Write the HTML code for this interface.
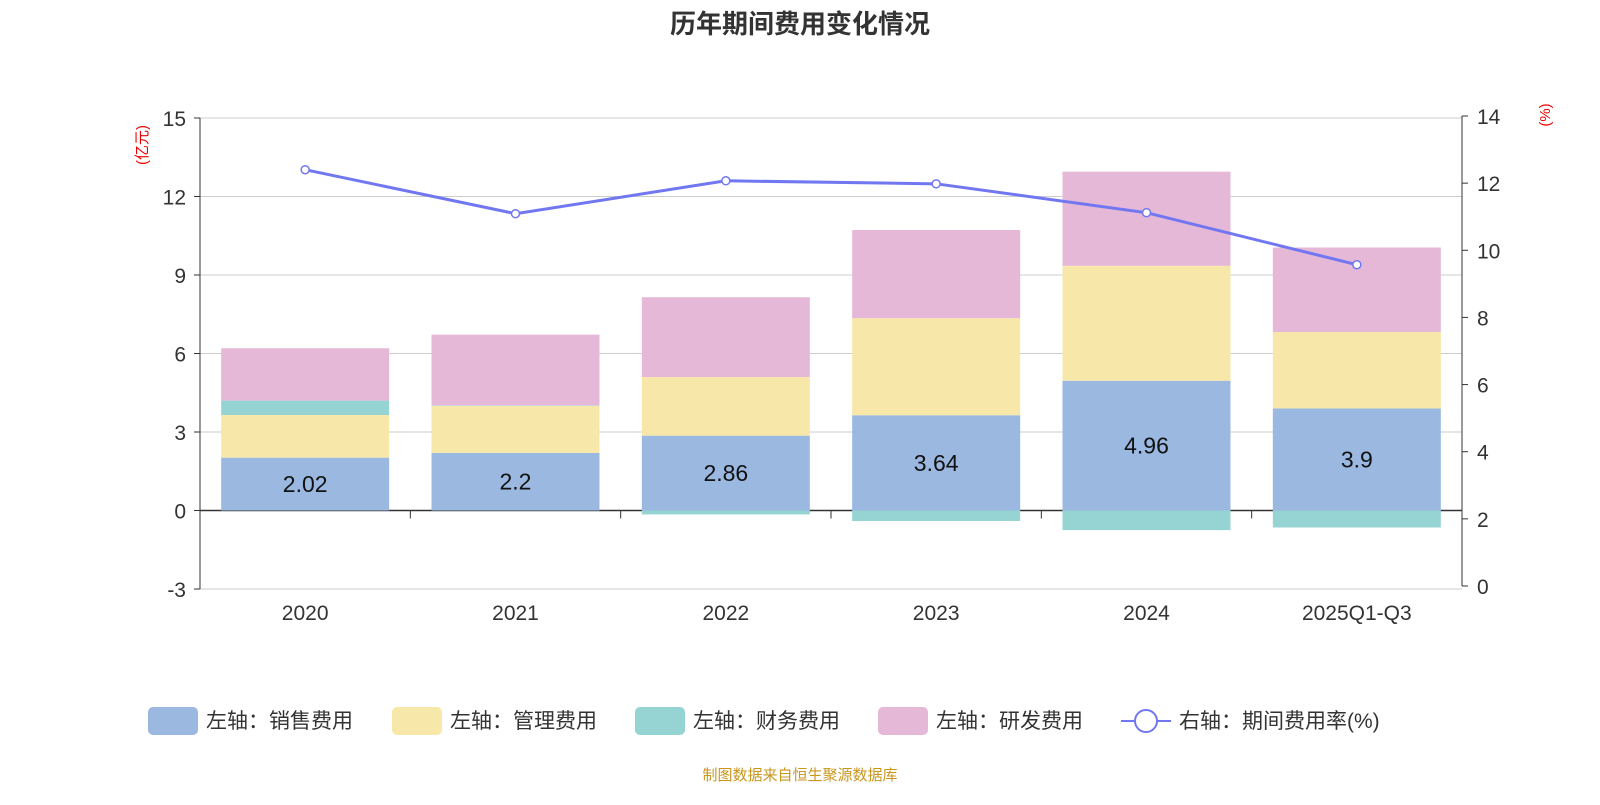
<!DOCTYPE html>
<html><head><meta charset="utf-8"><style>
body{margin:0;background:#fff;font-family:"Liberation Sans","Noto Sans CJK SC",sans-serif;}
svg text{font-family:"Liberation Sans","Noto Sans CJK SC",sans-serif;}
</style></head><body>
<svg id="c" width="1600" height="800" xmlns="http://www.w3.org/2000/svg">
<text x="800" y="33" text-anchor="middle" font-size="26" font-weight="bold" fill="#333">历年期间费用变化情况</text>
<text transform="translate(147,145) rotate(-90)" text-anchor="middle" font-size="15" fill="#e00">(亿元)</text>
<text transform="translate(1550,115) rotate(-90)" text-anchor="middle" font-size="15" fill="#e00">(%)</text>
<g id="grid"></g><g id="bars"></g><g id="line"></g><g id="axes"></g>
<g id="legend" font-size="21" fill="#333"></g>
<text x="800" y="780" text-anchor="middle" font-size="15" fill="#c9961e">制图数据来自恒生聚源数据库</text>
</svg>
<script>
const categories=["2020","2021","2022","2023","2024","2025Q1-Q3"];
const sales=[2.02,2.2,2.86,3.64,4.96,3.9];
const mgmt=[1.63,1.8,2.24,3.71,4.39,2.92];
const finance=[0.55,0.02,-0.15,-0.4,-0.75,-0.65];
const rnd=[2.0,2.7,3.05,3.37,3.6,3.23];
const rate=[12.4,11.09,12.07,11.98,11.12,9.57];
const leftTicks=[-3,0,3,6,9,12,15];
const rightTicks=[0,2,4,6,8,10,12,14];
const NS="http://www.w3.org/2000/svg";
const X0=200,X1=1462,bw=(X1-X0)/categories.length;
const yL=v=>510.5-v*(589-118)/18;
const yR=v=>586-v*(586-116)/14;
const xc=i=>X0+bw*(i+0.5);
function mk(tag,attrs,parent,text){const e=document.createElementNS(NS,tag);for(const k in attrs)e.setAttribute(k,attrs[k]);if(text!==undefined)e.textContent=text;document.getElementById(parent).appendChild(e);return e;}
leftTicks.forEach(t=>{
 const g=mk('line',{x1:X0,x2:X1,y1:yL(t),y2:yL(t),stroke:t===0?'#333':'#ccc','stroke-width':t===0?1.5:1},'grid');
 
 
 const l=mk('text',{x:186,y:yL(t)+8,'text-anchor':'end','font-size':21,fill:'#333'},'axes',String(t));
 
 
 mk('line',{x1:X0-6,x2:X0,y1:yL(t),y2:yL(t),stroke:'#333'},'axes');
});
mk('line',{x1:X0,x2:X0,y1:yL(15),y2:yL(-3),stroke:'#333'},'axes');
mk('line',{x1:X1,x2:X1,y1:yR(14),y2:yR(0),stroke:'#333'},'axes');
rightTicks.forEach(t=>{
 mk('line',{x1:X1,x2:X1+6,y1:yR(t),y2:yR(t),stroke:'#333'},'axes');
 const l=mk('text',{x:1477,y:yR(t)+8,'font-size':21,fill:'#333'},'axes',String(t));
 
 
});
for(let i=0;i<=categories.length;i++)mk('line',{x1:X0+bw*i,x2:X0+bw*i,y1:yL(0),y2:yL(0)+8,stroke:'#333'},'axes');
const colors={sales:'#9bb8e1',mgmt:'#f7e8a9',fin:'#96d3d3',rnd:'#e6b8d8'};
categories.forEach((c,i)=>{
 const l=mk('text',{x:xc(i),y:620,'text-anchor':'middle','font-size':21,fill:'#333'},'axes',c);
 
 
 let pos=0,neg=0;const w=168,x=xc(i)-w/2;
 [[sales[i],colors.sales,'bar-sales'],[mgmt[i],colors.mgmt,'bar-mgmt'],[finance[i],colors.fin,'bar-finance'],[rnd[i],colors.rnd,'bar-rnd']].forEach(([v,col,nm])=>{
  let a,b;if(v>=0){a=pos;b=pos+v;pos=b;}else{a=neg;b=neg+v;neg=b;}
  const r=mk('rect',{x:x,width:w,y:Math.min(yL(a),yL(b)),height:Math.abs(yL(a)-yL(b)),fill:col},'bars');
  
  
 });
 const t=mk('text',{x:xc(i),y:(yL(0)+yL(sales[i]))/2+8,'text-anchor':'middle','font-size':23,fill:'#111'},'bars',String(sales[i]));
 
 
});
const pl=mk('polyline',{points:rate.map((v,i)=>xc(i)+','+yR(v)).join(' '),fill:'none',stroke:'#7177f0','stroke-width':3},'line');


rate.forEach((v,i)=>{const p=mk('circle',{cx:xc(i),cy:yR(v),r:4,fill:'#fff',stroke:'#7177f0','stroke-width':1.5},'line');
 
 });
const leg=[['左轴：销售费用',colors.sales,148],['左轴：管理费用',colors.mgmt,392],['左轴：财务费用',colors.fin,635],['左轴：研发费用',colors.rnd,878]];
leg.forEach(([t,c,x])=>{const r=mk('rect',{x:x,y:707,width:50,height:28,rx:5,fill:c},'legend');
 
 
 const tx=mk('text',{x:x+58,y:728},'legend',t);
 
 });
mk('line',{x1:1121,x2:1171,y1:721,y2:721,stroke:'#7177f0','stroke-width':2},'legend');
mk('circle',{cx:1146,cy:721,r:11,fill:'#fff',stroke:'#7177f0','stroke-width':2},'legend');
const lt=mk('text',{x:1179,y:728},'legend','右轴：期间费用率(%)');


</script>
</body></html>
